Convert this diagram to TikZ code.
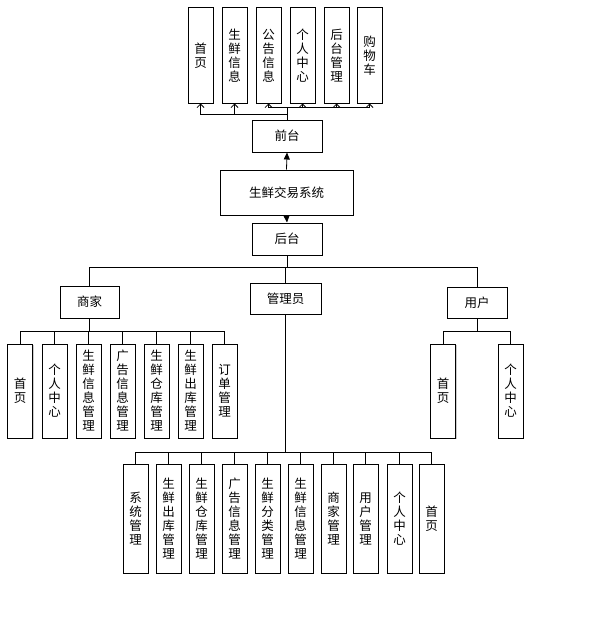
\documentclass[tikz,border=0pt]{standalone}
\usepackage{fontspec}
\setmainfont{Noto Sans CJK SC}
\usepackage{tikz}
\usetikzlibrary{arrows.meta,shadows}

\tikzset{
  box/.style={draw,line width=1pt,fill=white,inner sep=0pt,
    drop shadow={shadow xshift=1.3pt,shadow yshift=-1.3pt,fill=black!40,opacity=0.5},
    font=\fontsize{12.5}{14}\selectfont},
  colbox/.style={box,minimum width=25pt,text width=13pt,align=center},
  link/.style={line width=0.8pt},
}

\begin{document}
\begin{tikzpicture}[x=1pt,y=-1pt]
  \useasboundingbox (0,0) rectangle (605,618);
  % front end
  \foreach \i/\x/\t in {1/200.5/{首\\页},2/234.5/{生\\鲜\\信\\息},3/268.5/{公\\告\\信\\息},
      4/302.5/{个\\人\\中\\心},5/336.5/{后\\台\\管\\理},6/369.5/{购\\物\\车}}
    \node[colbox,minimum height=95pt] (f\i) at (\x,55.5) {\t};
  \node[box,minimum width=70pt,minimum height=32pt] (front) at (287,136) {前台};
  \node[box,minimum width=133pt,minimum height=45pt] (system) at (286.5,192.5) {生鲜交易系统};
  \node[box,minimum width=70pt,minimum height=32pt] (back) at (287,239) {后台};
  \node[box,minimum width=59pt,minimum height=32pt] (merchant) at (89.5,302) {商家};
  \node[box,minimum width=71pt,minimum height=31pt] (admin) at (285.5,298.5) {管理员};
  \node[box,minimum width=60pt,minimum height=31pt] (user) at (477,302.5) {用户};
  % merchant modules
  \foreach \i/\x/\t in {1/20/{首\\页},2/54.5/{个\\人\\中\\心},3/88.5/{生\\鲜\\信\\息\\管\\理},
      4/122.5/{广\\告\\信\\息\\管\\理},5/156.5/{生\\鲜\\仓\\库\\管\\理},
      6/190.5/{生\\鲜\\出\\库\\管\\理},7/224.5/{订\\单\\管\\理}}
    \node[colbox,minimum height=94pt] (m\i) at (\x,391) {\t};
  % user modules
  \foreach \i/\x/\t in {1/443/{首\\页},2/510.5/{个\\人\\中\\心}}
    \node[colbox,minimum height=94pt] (u\i) at (\x,391) {\t};
  % admin modules
  \foreach \i/\x/\t in {1/135.5/{系\\统\\管\\理},2/168.5/{生\\鲜\\出\\库\\管\\理},
      3/201.5/{生\\鲜\\仓\\库\\管\\理},4/234.5/{广\\告\\信\\息\\管\\理},
      5/267.5/{生\\鲜\\分\\类\\管\\理},6/300.5/{生\\鲜\\信\\息\\管\\理},
      7/333.5/{商\\家\\管\\理},8/365.5/{用\\户\\管\\理},9/399.5/{个\\人\\中\\心},10/431.5/{首\\页}}
    \node[colbox,minimum height=109pt] (a\i) at (\x,518.5) {\t};

  \draw[link,-{Triangle[length=7pt,width=6pt]}] (system.north) -- (front.south);
  \draw[link,-{Triangle[length=7pt,width=6pt]}] (system.south) -- (back.north);
  \foreach \i in {1,2}
    \draw[link,-{Straight Barb[length=3.5pt,width=7pt]}] (front.north) -- ++(0,-5) -| (f\i.south);
  \foreach \i in {3,...,6}
    \draw[link,-{Straight Barb[length=3.5pt,width=7pt]}] (front.north) -- ++(0,-12) -| (f\i.south);
  \foreach \n in {merchant,admin,user}
    \draw[link] (back.south) -- ++(0,12) -| (\n.north);
  \foreach \i in {1,...,7}
    \draw[link] (merchant.south) -- ++(0,13) -| (m\i.north);
  \foreach \i in {1,2}
    \draw[link] (user.south) -- ++(0,13) -| (u\i.north);
  \foreach \i in {1,...,10}
    \draw[link] (admin.south) -- ++(0,138) -| (a\i.north);
\end{tikzpicture}
\end{document}
